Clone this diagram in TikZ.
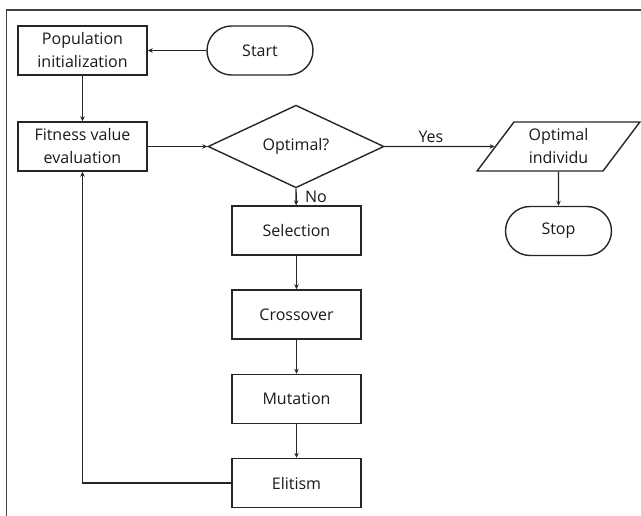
\documentclass[tikz,border=0pt]{standalone}
\usepackage{fontspec}
\setmainfont{Open Sans}
\usetikzlibrary{shapes.geometric,shapes.misc,arrows.meta}
\begin{document}
\begin{tikzpicture}[x=1pt,y=-1pt,
  every node/.style={font=\fontsize{16}{23}\selectfont, text=black!90, align=center},
  line/.style={draw=black!85, line width=1.4pt},
  flow/.style={line, -{Stealth[length=5pt,width=4.5pt]}},
  procbox/.style={line, rectangle, minimum width=129pt, minimum height=49pt, inner sep=0pt},
  termbox/.style={line, rounded rectangle, minimum width=106pt, minimum height=49pt, inner sep=0pt},
  decision/.style={line, diamond, minimum width=176pt, minimum height=49pt, inner sep=0pt},
  iobox/.style={line, trapezium, trapezium left angle=55, trapezium right angle=125,
                trapezium stretches=true, minimum width=163pt, minimum height=49pt, inner sep=0pt},
  lbl/.style={font=\fontsize{16}{19}\selectfont, text=black!90}]
  \useasboundingbox (0,0) rectangle (641,516);
  % outer frame
  \draw[draw=black!75, line width=1.8pt] (6.5,530) -- (6.5,10) -- (660,10);

  \node[procbox] (pop) at (82.5,50.5) {Population\\initialization};
  \node[termbox] (start) at (260,50.5) {Start};
  \node[procbox] (fit) at (82.5,146.5) {Fitness value\\evaluation};
  \node[decision] (opt) at (296,146.5) {Optimal?};
  \node[iobox] (ind) at (558.5,146.5) {Optimal\\individu};
  \node[termbox] (stop) at (558.5,231) {Stop};
  \node[procbox] (sel) at (296.5,230.5) {Selection};
  \node[procbox] (cro) at (296.5,314.5) {Crossover};
  \node[procbox] (mut) at (296.5,399) {Mutation};
  \node[procbox] (eli) at (296.5,483) {Elitism};

  \draw[flow] (start) -- (pop);
  \draw[flow] (pop) -- (fit);
  \draw[flow] (fit) -- (opt);
  \draw[flow] (opt.east) -- node[lbl, above, pos=0.42] {Yes} (ind);
  \draw[flow] (opt.south) -- node[lbl, right=5pt, pos=0.5] {No} (sel);
  \draw[flow] (ind) -- (stop);
  \draw[flow] (sel) -- (cro);
  \draw[flow] (cro) -- (mut);
  \draw[flow] (mut) -- (eli);
  \draw[flow] (eli.west) -| (fit.south);
\end{tikzpicture}
\end{document}
